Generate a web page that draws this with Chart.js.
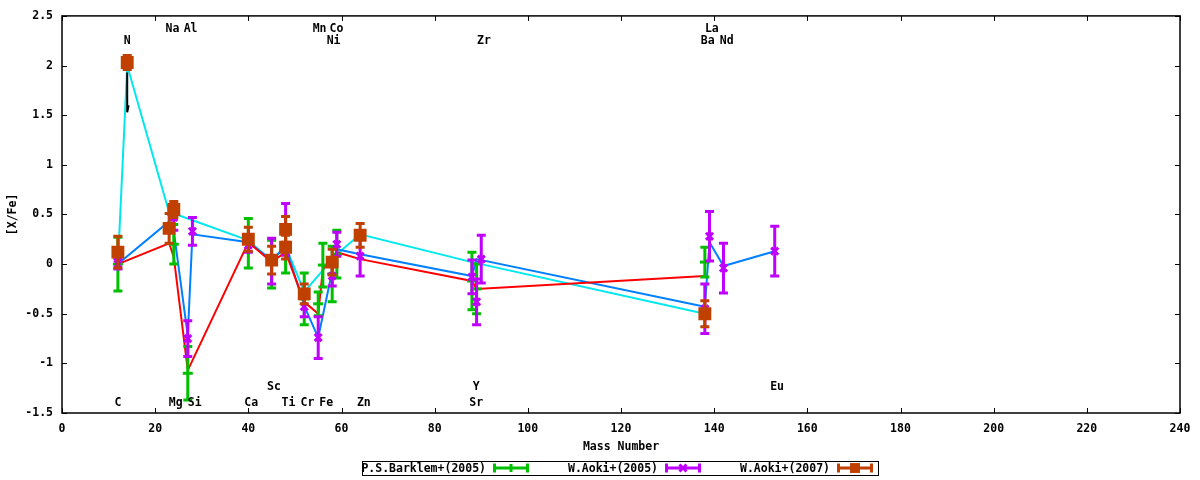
<!DOCTYPE html>
<html lang="en">
<head>
<meta charset="UTF-8">
<title>[X/Fe] vs Mass Number</title>
<script src="https://cdn.jsdelivr.net/npm/chart.js@4.4.1/dist/chart.umd.min.js"></script>
<style>
  html, body { margin: 0; padding: 0; background: #fff; }
</style>
</head>
<body>
<canvas id="chart" width="1200" height="480"></canvas>
<script>
// --- observations: mass number, [X/Fe], error ---
const barklemMass = [12, 24, 27, 40, 45, 48, 52, 55, 56, 58, 59, 88, 89, 138];
const barklemVal  = [0.0, 0.2, -1.1, 0.21, 0.0, 0.15, -0.35, -0.4, -0.01, -0.1, 0.1, -0.17, -0.25, 0.02];
const barklemErr  = [0.27, 0.2, 0.27, 0.25, 0.24, 0.24, 0.26, 0.12, 0.22, 0.28, 0.24, 0.29, 0.25, 0.15];

const aoki05Mass = [12, 24, 27, 28, 40, 45, 48, 52, 55, 58, 59, 64, 88, 89, 90, 138, 139, 142, 153];
const aoki05Val  = [0.0, 0.47, -0.75, 0.33, 0.19, 0.03, 0.35, -0.43, -0.74, -0.12, 0.2, 0.08, -0.13, -0.38, 0.05, -0.45, 0.28, -0.04, 0.13];
const aoki05Err  = [0.05, 0.13, 0.18, 0.14, 0.07, 0.23, 0.26, 0.1, 0.21, 0.1, 0.12, 0.2, 0.17, 0.23, 0.24, 0.25, 0.25, 0.25, 0.25];

const aoki07Mass = [12, 14, 23, 24, 40, 45, 48, 48, 52, 58, 64, 138];
const aoki07Val  = [0.12, 2.03, 0.36, 0.55, 0.25, 0.04, 0.35, 0.17, -0.3, 0.02, 0.29, -0.5];
const aoki07Err  = [0.16, 0.07, 0.15, 0.08, 0.12, 0.14, 0.13, 0.12, 0.1, 0.13, 0.12, 0.13];

// --- model curves ---
const redMass  = [12, 23, 24, 27, 40, 45, 48, 52, 55, 56, 59, 64, 88, 89, 138];
const redVal   = [0.0, 0.21, 0.07, -1.07, 0.22, 0.02, 0.12, -0.38, -0.5, -0.05, 0.12, 0.05, -0.17, -0.25, -0.12];
const blueMass = [12, 23, 24, 27, 28, 40, 45, 48, 52, 55, 59, 64, 88, 89, 138, 139, 142, 153];
const blueVal  = [0.0, 0.43, 0.33, -0.72, 0.3, 0.22, 0.04, 0.18, -0.42, -0.74, 0.15, 0.1, -0.12, 0.05, -0.43, 0.22, -0.02, 0.13];
const cyanMass = [12, 14, 23, 24, 40, 45, 48, 52, 59, 64, 88, 138];
const cyanVal  = [0.0, 2.0, 0.52, 0.51, 0.24, 0.03, 0.18, -0.28, 0.1, 0.3, 0.02, -0.5];

// small black mark under N
const nMarkMass = [14, 14, 14.3];
const nMarkVal  = [1.93, 1.53, 1.6];

// --- element labels ---
const labelText = ['C', 'N', 'Na', 'Al', 'Mg', 'Si', 'Ca', 'Sc', 'Ti', 'Cr', 'Mn', 'Fe', 'Co', 'Ni', 'Zn', 'Sr', 'Y', 'Zr', 'Ba', 'La', 'Nd', 'Eu'];
const labelMass = [12, 14, 23.7, 27.6, 24.4, 28.5, 40.6, 45.5, 48.6, 52.7, 55.3, 56.7, 58.9, 58.3, 64.8, 88.9, 88.9, 90.6, 138.6, 139.5, 142.7, 153.5];
const labelPos  = [-1.4, 2.25, 2.37, 2.37, -1.4, -1.4, -1.4, -1.24, -1.4, -1.4, 2.37, -1.4, 2.37, 2.25, -1.4, -1.4, -1.24, 2.25, 2.25, 2.37, 2.25, -1.24];

const FAMILY = '"DejaVu Sans Mono", monospace';
const FONT = 'bold 11.5px ' + FAMILY;

function pts(xs, ys) {
  return xs.map((x, i) => ({ x: x, y: ys[i] }));
}

function drawMarker(ctx, style, r, x, y) {
  ctx.beginPath();
  if (style === 'line') {
    ctx.moveTo(x, y - r + 1); ctx.lineTo(x, y + r - 1);
    ctx.stroke();
  } else if (style === 'crossRot') {
    const d = r * Math.SQRT1_2;
    ctx.moveTo(x - d, y - d); ctx.lineTo(x + d, y + d);
    ctx.moveTo(x + d, y - d); ctx.lineTo(x - d, y + d);
    ctx.stroke();
  } else {
    const s = r * Math.SQRT1_2;
    ctx.fillRect(x - s, y - s, 2 * s, 2 * s);
  }
}

const errorBars = {
  id: 'errorBars',
  beforeDatasetDraw(chart, args) {
    const ds = chart.data.datasets[args.index];
    if (!ds.errors) return;
    const { ctx, scales: { x, y } } = chart;
    ctx.save();
    ctx.strokeStyle = ds.borderColor;
    ctx.lineWidth = 3;
    ds.data.forEach((p, i) => {
      const px = x.getPixelForValue(p.x);
      const top = y.getPixelForValue(p.y + ds.errors[i]);
      const bot = y.getPixelForValue(p.y - ds.errors[i]);
      ctx.beginPath();
      ctx.moveTo(px, top); ctx.lineTo(px, bot);
      ctx.moveTo(px - 4.5, top); ctx.lineTo(px + 4.5, top);
      ctx.moveTo(px - 4.5, bot); ctx.lineTo(px + 4.5, bot);
      ctx.stroke();
    });
    ctx.restore();
  }
};

const frame = {
  id: 'frame',
  beforeDatasetsDraw(chart) {
    const { ctx, chartArea: a, scales: { x, y } } = chart;
    ctx.save();
    ctx.strokeStyle = '#000';
    ctx.lineWidth = 1;
    ctx.beginPath();
    x.ticks.forEach(t => {
      const px = Math.round(x.getPixelForValue(t.value)) + 0.5;
      ctx.moveTo(px, a.bottom); ctx.lineTo(px, a.bottom - 5);
      ctx.moveTo(px, a.top); ctx.lineTo(px, a.top + 5);
    });
    y.ticks.forEach(t => {
      const py = Math.round(y.getPixelForValue(t.value)) + 0.5;
      ctx.moveTo(a.left, py); ctx.lineTo(a.left + 5, py);
      ctx.moveTo(a.right, py); ctx.lineTo(a.right - 5, py);
    });
    ctx.stroke();
    ctx.lineWidth = 1.5;
    ctx.strokeRect(a.left, a.top, a.right - a.left, a.bottom - a.top);
    ctx.restore();
  }
};

const elementLabels = {
  id: 'elementLabels',
  afterDatasetsDraw(chart) {
    const { ctx, scales: { x, y } } = chart;
    ctx.save();
    ctx.font = FONT;
    ctx.fillStyle = '#000';
    ctx.textAlign = 'center';
    ctx.textBaseline = 'middle';
    labelText.forEach((t, i) => {
      ctx.fillText(t, x.getPixelForValue(labelMass[i]), y.getPixelForValue(labelPos[i]));
    });
    ctx.restore();
  }
};

// gnuplot style key under the plot
const keyBox = {
  id: 'keyBox',
  afterDraw(chart) {
    const ctx = chart.ctx;
    const sets = chart.data.datasets.filter(d => d.errors);
    const left = 362, top = 461, colW = 172, h = 14;
    const cy = top + h / 2;
    ctx.save();
    ctx.strokeStyle = '#000';
    ctx.lineWidth = 1;
    ctx.strokeRect(left + 0.5, top + 0.5, colW * sets.length, h);
    ctx.font = FONT;
    ctx.textAlign = 'right';
    ctx.textBaseline = 'middle';
    sets.forEach((ds, i) => {
      const x0 = left + i * colW;
      ctx.fillStyle = '#000';
      ctx.fillText(ds.label, x0 + 124, cy + 1);
      const sx0 = x0 + 131, sx1 = x0 + 167;
      ctx.strokeStyle = ds.borderColor;
      ctx.fillStyle = ds.borderColor;
      ctx.lineWidth = 3;
      ctx.beginPath();
      ctx.moveTo(sx0, cy); ctx.lineTo(sx1, cy);
      ctx.moveTo(sx0 + 1.5, cy - 4.5); ctx.lineTo(sx0 + 1.5, cy + 4.5);
      ctx.moveTo(sx1 - 1.5, cy - 4.5); ctx.lineTo(sx1 - 1.5, cy + 4.5);
      ctx.stroke();
      drawMarker(ctx, ds.pointStyle, ds.pointRadius, (sx0 + sx1) / 2, cy);
    });
    ctx.restore();
  }
};

const obs = (label, xs, ys, es, color, style, r, order) => ({
  label: label,
  data: pts(xs, ys),
  errors: es,
  borderColor: color,
  backgroundColor: color,
  pointStyle: style,
  pointRadius: r,
  pointBorderWidth: 3,
  showLine: false,
  order: order
});

const model = (xs, ys, color) => ({
  data: pts(xs, ys),
  borderColor: color,
  borderWidth: 2,
  pointRadius: 0,
  showLine: true,
  order: 5
});

const tickFont = { family: FAMILY, size: 11.5, weight: 'bold' };

new Chart(document.getElementById('chart'), {
  type: 'scatter',
  data: {
    datasets: [
      obs('P.S.Barklem+(2005)', barklemMass, barklemVal, barklemErr, '#00c000', 'line', 5, 3),
      obs('W.Aoki+(2005)', aoki05Mass, aoki05Val, aoki05Err, '#c000ff', 'crossRot', 5, 2),
      obs('W.Aoki+(2007)', aoki07Mass, aoki07Val, aoki07Err, '#c04000', 'rect', 7, 1),
      model(redMass, redVal, '#ff0000'),
      model(blueMass, blueVal, '#0080ff'),
      model(cyanMass, cyanVal, '#00e8ee'),
      { data: pts(nMarkMass, nMarkVal), borderColor: '#000', borderWidth: 2, pointRadius: 0, showLine: true, order: 0 }
    ]
  },
  options: {
    responsive: false,
    devicePixelRatio: 1,
    animation: false,
    layout: { padding: { left: 0, right: 20, top: 14, bottom: 0 } },
    plugins: {
      legend: { display: false },
      tooltip: { enabled: false }
    },
    scales: {
      x: {
        type: 'linear',
        min: 0,
        max: 240,
        grid: { display: false, drawTicks: false },
        border: { display: false },
        ticks: { stepSize: 20, padding: 9, color: '#000', font: tickFont },
        title: { display: true, text: 'Mass Number', color: '#000', padding: { bottom: 26 }, font: tickFont },
        afterFit: s => { s.height = 67; }
      },
      y: {
        type: 'linear',
        min: -1.5,
        max: 2.5,
        grid: { display: false, drawTicks: false },
        border: { display: false },
        ticks: {
          stepSize: 0.5, padding: 9, color: '#000', font: tickFont,
          callback: v => String(Math.round(v * 100) / 100 || 0)
        },
        title: { display: true, text: '[X/Fe]', color: '#000', padding: { top: 6 }, font: tickFont },
        afterFit: s => { s.width = 62; }
      }
    }
  },
  plugins: [frame, errorBars, elementLabels, keyBox]
});
</script>
</body>
</html>
